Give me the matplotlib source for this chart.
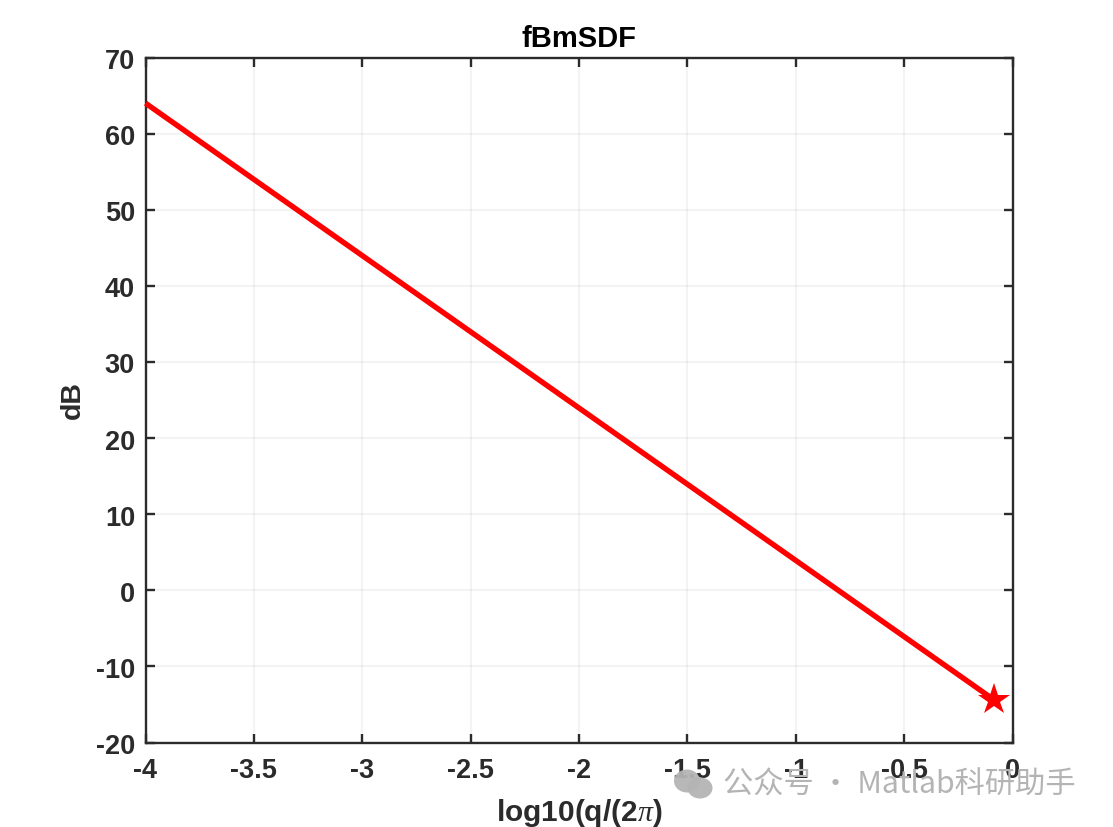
import matplotlib
matplotlib.use("Agg")
import matplotlib.pyplot as plt
from matplotlib.patches import Ellipse, Polygon
from matplotlib.transforms import ScaledTranslation

q_log = [-4, -0.0850]
db = [64, -14.4]
star_x = [-0.0850]
star_y = [-14.4]
xticks = [-4, -3.5, -3, -2.5, -2, -1.5, -1, -0.5, 0]
xlabels = ['-4', '-3.5', '-3', '-2.5', '-2', '-1.5', '-1', '-0.5', '0']
yticks = list(range(-20, 71, 10))
ylabels = [str(v) for v in yticks]

W, H = 1113, 827
plt.rcParams['font.family'] = ['Liberation Sans', 'DejaVu Sans']
plt.rcParams['mathtext.fontset'] = 'custom'
plt.rcParams['mathtext.default'] = 'regular'
plt.rcParams['mathtext.it'] = 'Liberation Serif:italic'
plt.rcParams['mathtext.rm'] = 'Liberation Sans:bold'

fig = plt.figure(figsize=(W / 100, H / 100), dpi=100, facecolor='white')
ax = fig.add_axes([145.5 / W, 1 - 742.5 / H, 867 / W, 685 / H])
dark = '#2b2b2b'

ax.plot(q_log, db, color='#ff0000', lw=3.9, solid_capstyle='butt', clip_on=False, zorder=3)
ax.plot(star_x, star_y, marker='*', color='#ff0000', ms=24, mew=0, ls='none', clip_on=False, zorder=4)

ax.set_xlim(-4, 0)
ax.set_ylim(-20, 70)
ax.set_xticks(xticks)
ax.set_xticklabels(xlabels)
ax.set_yticks(yticks)
ax.set_yticklabels(ylabels)
ax.grid(True, color='#262626', alpha=0.05, lw=1.6)
ax.set_axisbelow(True)
ax.tick_params(direction='in', length=6.5, width=1.7, colors=dark, top=True, right=True,
               labelsize=19.5)
ax.tick_params(axis='x', pad=11.5)
ax.tick_params(axis='y', pad=7.5)
shift = ScaledTranslation(0, -1.5 / 100, fig.dpi_scale_trans)
for lab in ax.get_xticklabels() + ax.get_yticklabels():
    lab.set_fontweight('bold')
for lab in ax.get_yticklabels():
    lab.set_transform(lab.get_transform() + shift)
for s in ax.spines.values():
    s.set_linewidth(1.7)
    s.set_color(dark)

ax.set_xlabel(r'log10(q/(2$\mathit{\pi}$)', fontsize=21.5, fontweight='bold', color=dark, labelpad=9)
ax.set_ylabel('dB', fontsize=20.5, fontweight='bold', color=dark, labelpad=7.5)
ax.set_title('fBmSDF', fontsize=21, fontweight='bold', color='black', pad=7.5)

# Watermark
grey = '#b4b4b4'
def px(x, y):
    return x / W, 1 - y / H
for cx, cy, w, h in [(687, 781, 26, 23), (700, 788, 25, 21)]:
    fig.add_artist(Ellipse(px(cx, cy), w / W, h / H, transform=fig.transFigure,
                           color=grey, lw=0, alpha=0.95, zorder=5))
fig.text(*px(723, 785), '公众号 · Matlab科研助手', fontsize=21.8, color=grey, va='center', ha='left',
         family=['Noto Sans CJK SC', 'DejaVu Sans'], zorder=6)

fig.savefig('out.png', dpi=100)
